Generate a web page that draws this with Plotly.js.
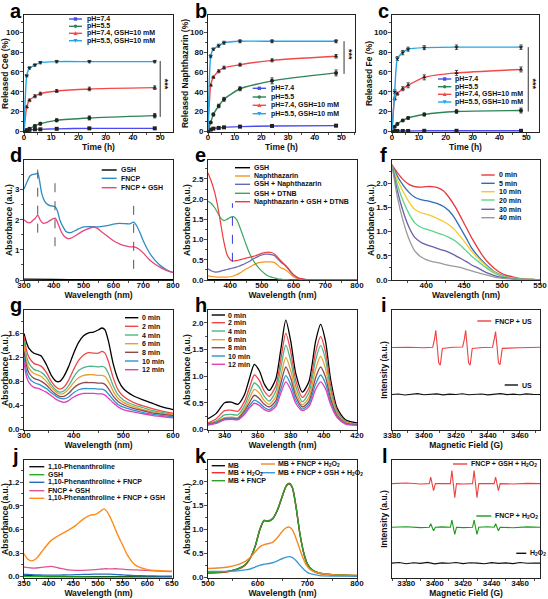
<!DOCTYPE html>
<html><head><meta charset="utf-8">
<script src="https://cdn.plot.ly/plotly-3.0.1.min.js"></script>
<style>html,body{margin:0;padding:0;background:#fff;}#chart{width:548px;height:599px;}</style>
</head><body><div id="chart"></div>
<script>
// ---------- DATA ----------
// a, b, c : release kinetics
const timeH = [0, 1, 2, 4, 6, 12, 24, 48];
const releaseLabels = ["pH=7.4", "pH=5.5", "pH=7.4, GSH=10 mM", "pH=5.5, GSH=10 mM"];
const ce6_pH74 = [0, 1, 1.5, 2, 2, 2.5, 3, 3];
const ce6_pH55 = [0, 1, 2.7, 5.4, 7.7, 11.1, 13.5, 15.8];
const ce6_pH74GSH = [0, 24.6, 31.3, 35.4, 38, 40.7, 42.8, 44.1];
const ce6_pH55GSH = [0, 56.2, 64, 67, 69.4, 70.4, 70.4, 70.4];
const ce6_err74 = [0, 0.5, 0.5, 0.5, 0.5, 0.6, 0.6, 0.6];
const ce6_err55 = [0, 0.8, 1, 1.2, 1.3, 1.5, 2, 2.2];
const ce6_err74G = [0, 1.2, 1.3, 1.5, 1.5, 1.5, 1.8, 1.8];
const ce6_err55G = [0, 1.2, 1.2, 1.2, 1.2, 1.2, 1.2, 1.2];
const naph_pH74 = [0, 1.7, 2.7, 3.4, 4, 4.7, 5.4, 5.7];
const naph_pH55 = [0, 9, 17, 25.6, 32.3, 43, 51, 59];
const naph_pH74GSH = [0, 46.5, 54.5, 60.6, 64.3, 67.3, 71.7, 75.8];
const naph_pH55GSH = [0, 75.8, 83, 86.5, 89.5, 91, 91, 91];
const naph_err74 = [0, 0.5, 0.5, 0.5, 0.5, 0.6, 0.6, 0.6];
const naph_err55 = [0, 1, 1.5, 1.8, 2, 2, 3, 3];
const naph_err74G = [0, 1, 1.2, 1.5, 1.5, 1.5, 1.5, 1.8];
const naph_err55G = [0, 1.5, 1.2, 1.5, 1.5, 1.5, 1.5, 1.5];
const fe_pH74 = [0, 0.3, 0.3, 0.3, 0.3, 0.5, 0.5, 0.5];
const fe_pH55 = [0, 4.5, 7.5, 11, 13.5, 17, 20, 21];
const fe_pH74GSH = [0, 33, 38, 43, 46.5, 54.5, 59, 62.5];
const fe_pH55GSH = [0, 40, 73.5, 79.5, 83, 84.5, 85, 85];
const fe_err74 = [0, 0.3, 0.3, 0.3, 0.3, 0.3, 0.3, 0.3];
const fe_err55 = [0, 0.8, 1, 1, 1.2, 1.5, 1.8, 2.5];
const fe_err74G = [0, 1.5, 1.5, 2, 2.5, 2.5, 2.5, 2.5];
const fe_err55G = [0, 2, 2, 2.2, 2, 2, 2.2, 2.2];

// d
const d_labels = ["GSH", "FNCP", "FNCP + GSH"];
const d_wl_gsh = [300, 400, 500, 600, 700, 800];
const d_gsh = [0.03, 0.02, 0.01, 0.01, 0.01, 0.01];
const d_wl_fncp = [300, 310, 320, 330, 340, 346, 352, 360, 370, 380, 390, 398, 405, 412, 420, 430, 440, 450, 460, 480, 500, 520, 550, 580, 600, 620, 640, 655, 668, 678, 690, 700, 720, 740, 760, 780, 800];
const d_fncp = [3.02, 3.25, 3.45, 3.5, 3.52, 3.55, 3.3, 2.85, 2.6, 2.5, 2.46, 2.45, 2.42, 2.3, 2.0, 1.78, 1.62, 1.57, 1.58, 1.68, 1.76, 1.77, 1.76, 1.8, 1.85, 1.88, 1.87, 1.86, 1.92, 1.8, 1.55, 1.3, 0.92, 0.65, 0.46, 0.33, 0.25];
const d_wl_mix = [300, 310, 320, 330, 338, 346, 355, 365, 375, 385, 395, 405, 415, 425, 435, 445, 455, 470, 490, 510, 530, 545, 560, 580, 600, 620, 640, 655, 670, 685, 700, 720, 740, 760, 780, 800];
const d_fncpgsh = [2.0, 1.92, 1.9, 1.98, 2.05, 2.15, 1.98, 1.88, 1.9, 1.96, 2.02, 2.05, 1.85, 1.6, 1.45, 1.38, 1.38, 1.45, 1.58, 1.68, 1.75, 1.72, 1.6, 1.45, 1.3, 1.2, 1.13, 1.1, 1.1, 1.03, 0.9, 0.68, 0.52, 0.4, 0.31, 0.25];
const d_markers = [346, 404, 668];

// e
const e_labels = ["GSH", "Naphthazarin", "GSH + Naphthazarin", "GSH + DTNB", "Naphthazarin + GSH + DTNB"];
const e_wl_short = [330, 450, 600, 800];
const e_gsh = [0.01, 0.01, 0.005, 0.0];
const e_wl = [330, 340, 350, 360, 370, 380, 390, 400, 410, 420, 430, 440, 450, 460, 470, 480, 490, 500, 510, 520, 530, 540, 550, 560, 570, 580, 590, 600, 615, 630, 650, 700, 750, 800];
const e_naph = [0.1, 0.09, 0.08, 0.07, 0.07, 0.07, 0.07, 0.08, 0.1, 0.13, 0.17, 0.22, 0.27, 0.31, 0.36, 0.4, 0.43, 0.44, 0.45, 0.45, 0.45, 0.43, 0.37, 0.3, 0.27, 0.22, 0.15, 0.08, 0.03, 0.01, 0, 0, 0, 0];
const e_gshnaph = [0.28, 0.23, 0.2, 0.2, 0.22, 0.24, 0.26, 0.28, 0.3, 0.32, 0.35, 0.38, 0.42, 0.46, 0.51, 0.55, 0.59, 0.62, 0.64, 0.64, 0.63, 0.6, 0.52, 0.44, 0.38, 0.3, 0.2, 0.12, 0.05, 0.02, 0, 0, 0, 0];
const e_gshdtnb = [1.95, 1.9, 1.8, 1.67, 1.53, 1.47, 1.5, 1.55, 1.57, 1.5, 1.32, 1.1, 0.88, 0.68, 0.52, 0.4, 0.3, 0.22, 0.15, 0.1, 0.07, 0.05, 0.03, 0.02, 0.01, 0.01, 0, 0, 0, 0, 0, 0, 0, 0];
const e_all = [2.65, 2.45, 2.2, 1.85, 1.4, 0.95, 0.63, 0.5, 0.47, 0.48, 0.5, 0.52, 0.54, 0.56, 0.58, 0.6, 0.63, 0.66, 0.68, 0.69, 0.68, 0.64, 0.56, 0.47, 0.4, 0.32, 0.22, 0.13, 0.05, 0.02, 0, 0, 0, 0];
const e_marker = 407;

// f
const f_labels = ["0 min", "5 min", "10 min", "20 min", "30 min", "40 min"];
const f_wl = [355, 362, 370, 378, 385, 393, 400, 408, 415, 423, 430, 438, 445, 453, 460, 468, 475, 483, 490, 498, 505, 515, 525, 540, 550];
const f_0 = [2.38, 2.22, 2.07, 1.97, 1.93, 1.92, 1.93, 1.93, 1.91, 1.84, 1.71, 1.52, 1.32, 1.08, 0.87, 0.66, 0.49, 0.34, 0.24, 0.15, 0.1, 0.06, 0.03, 0.01, 0.0];
const f_5 = [2.38, 2.15, 1.95, 1.8, 1.71, 1.66, 1.64, 1.61, 1.58, 1.52, 1.43, 1.27, 1.08, 0.86, 0.66, 0.5, 0.38, 0.26, 0.17, 0.11, 0.07, 0.04, 0.02, 0.01, 0.0];
const f_10 = [2.38, 2.08, 1.82, 1.6, 1.46, 1.39, 1.36, 1.32, 1.27, 1.21, 1.14, 1.03, 0.9, 0.74, 0.59, 0.46, 0.35, 0.24, 0.16, 0.1, 0.06, 0.04, 0.02, 0.01, 0.0];
const f_20 = [2.38, 1.98, 1.62, 1.35, 1.18, 1.09, 1.05, 1.01, 0.97, 0.93, 0.88, 0.81, 0.72, 0.6, 0.49, 0.39, 0.3, 0.21, 0.14, 0.09, 0.06, 0.03, 0.02, 0.01, 0.0];
const f_30 = [2.38, 1.85, 1.4, 1.07, 0.88, 0.78, 0.73, 0.69, 0.65, 0.61, 0.57, 0.51, 0.45, 0.38, 0.31, 0.25, 0.19, 0.13, 0.09, 0.06, 0.04, 0.02, 0.01, 0.0, 0.0];
const f_40 = [2.38, 1.72, 1.2, 0.82, 0.6, 0.48, 0.42, 0.38, 0.36, 0.33, 0.3, 0.28, 0.26, 0.22, 0.19, 0.15, 0.12, 0.09, 0.06, 0.04, 0.03, 0.02, 0.01, 0.0, 0.0];

// g
const gh_labels = ["0 min", "2 min", "4 min", "6 min", "8 min", "10 min", "12 min"];
const g_wl = [300, 305, 310, 320, 330, 335, 345, 355, 365, 372, 380, 390, 400, 410, 420, 430, 440, 450, 457, 463, 470, 480, 490, 500, 520, 540, 560, 580, 600];
const g_0 = [1.6, 1.45, 1.35, 1.27, 1.24, 1.22, 1.08, 0.9, 0.8, 0.8, 0.88, 1.05, 1.27, 1.45, 1.56, 1.61, 1.62, 1.66, 1.69, 1.66, 1.47, 1.08, 0.82, 0.68, 0.56, 0.49, 0.43, 0.37, 0.33];
const g_2 = [1.55, 1.32, 1.2, 1.1, 1.07, 1.05, 0.95, 0.8, 0.7, 0.67, 0.7, 0.82, 1.0, 1.15, 1.24, 1.28, 1.27, 1.27, 1.3, 1.27, 1.13, 0.85, 0.65, 0.55, 0.45, 0.39, 0.34, 0.3, 0.27];
const g_4 = [1.47, 1.22, 1.1, 1.0, 0.97, 0.95, 0.87, 0.74, 0.65, 0.62, 0.64, 0.73, 0.87, 0.98, 1.03, 1.05, 1.05, 1.04, 1.05, 1.03, 0.93, 0.72, 0.57, 0.49, 0.41, 0.36, 0.31, 0.28, 0.25];
const g_6 = [1.4, 1.15, 1.02, 0.93, 0.9, 0.88, 0.8, 0.7, 0.62, 0.59, 0.6, 0.67, 0.78, 0.86, 0.9, 0.91, 0.91, 0.9, 0.9, 0.88, 0.8, 0.63, 0.51, 0.45, 0.38, 0.33, 0.29, 0.26, 0.24];
const g_8 = [1.3, 1.06, 0.94, 0.85, 0.82, 0.8, 0.74, 0.65, 0.58, 0.55, 0.55, 0.6, 0.69, 0.75, 0.78, 0.78, 0.78, 0.77, 0.77, 0.75, 0.68, 0.55, 0.46, 0.41, 0.35, 0.31, 0.27, 0.25, 0.23];
const g_10 = [1.2, 0.97, 0.86, 0.78, 0.75, 0.73, 0.68, 0.61, 0.55, 0.52, 0.51, 0.54, 0.61, 0.66, 0.68, 0.68, 0.68, 0.67, 0.67, 0.65, 0.59, 0.49, 0.41, 0.37, 0.32, 0.28, 0.25, 0.23, 0.21];
const g_12 = [1.12, 0.88, 0.78, 0.7, 0.68, 0.66, 0.62, 0.56, 0.5, 0.47, 0.45, 0.48, 0.54, 0.58, 0.6, 0.6, 0.6, 0.59, 0.59, 0.57, 0.52, 0.44, 0.37, 0.33, 0.29, 0.26, 0.23, 0.21, 0.19];

// h
const h_wl = [330, 335, 340, 344, 348, 352, 355, 358, 361, 364, 367, 371, 374, 377, 380, 383, 387, 391, 395, 398, 401, 404, 408, 413, 420];
const h_0 = [0.20, 0.30, 0.50, 0.51, 0.47, 0.65, 0.95, 1.22, 1.10, 0.85, 0.73, 0.95, 1.50, 2.05, 1.65, 1.05, 0.70, 0.90, 1.65, 1.97, 1.65, 0.95, 0.40, 0.18, 0.12];
const h_2 = [0.12, 0.20, 0.35, 0.36, 0.34, 0.52, 0.78, 1.02, 0.92, 0.72, 0.62, 0.82, 1.32, 1.80, 1.45, 0.92, 0.60, 0.78, 1.45, 1.74, 1.45, 0.83, 0.35, 0.15, 0.09];
const h_4 = [0.10, 0.16, 0.27, 0.28, 0.27, 0.44, 0.67, 0.87, 0.79, 0.62, 0.53, 0.72, 1.16, 1.58, 1.28, 0.81, 0.52, 0.69, 1.30, 1.57, 1.31, 0.75, 0.32, 0.14, 0.09];
const h_6 = [0.10, 0.14, 0.22, 0.23, 0.22, 0.38, 0.58, 0.75, 0.68, 0.54, 0.47, 0.62, 1.00, 1.35, 1.10, 0.70, 0.46, 0.60, 1.13, 1.37, 1.14, 0.66, 0.29, 0.13, 0.09];
const h_8 = [0.10, 0.13, 0.20, 0.21, 0.20, 0.34, 0.50, 0.64, 0.58, 0.47, 0.42, 0.54, 0.87, 1.17, 0.96, 0.62, 0.42, 0.53, 0.97, 1.17, 0.98, 0.58, 0.26, 0.12, 0.09];
const h_10 = [0.09, 0.12, 0.19, 0.20, 0.19, 0.30, 0.44, 0.55, 0.50, 0.41, 0.37, 0.48, 0.76, 1.01, 0.84, 0.55, 0.38, 0.48, 0.85, 1.02, 0.86, 0.52, 0.24, 0.11, 0.08];
const h_12 = [0.08, 0.11, 0.18, 0.19, 0.18, 0.28, 0.40, 0.49, 0.45, 0.37, 0.34, 0.43, 0.68, 0.89, 0.74, 0.49, 0.35, 0.43, 0.75, 0.89, 0.76, 0.47, 0.22, 0.10, 0.08];

// i (EPR)
const i_labels = ["FNCP + US", "US"];
const i_field = [3380, 3390, 3400, 3405.5, 3406.6, 3407.4, 3408.3, 3409.2, 3410.2, 3411.5, 3418, 3424.2, 3425.3, 3426.1, 3427, 3427.9, 3428.9, 3430.2, 3437, 3442.9, 3444, 3444.8, 3445.7, 3446.6, 3447.6, 3449, 3460, 3472.6];
const i_fncpus = [0.687, 0.69, 0.685, 0.69, 0.76, 0.83, 0.70, 0.56, 0.54, 0.68, 0.69, 0.692, 0.76, 0.83, 0.70, 0.56, 0.54, 0.68, 0.688, 0.69, 0.76, 0.82, 0.70, 0.56, 0.545, 0.68, 0.686, 0.69];
const i_field_us = [3380, 3384, 3388, 3392, 3396, 3400, 3404, 3408, 3412, 3416, 3420, 3424, 3428, 3432, 3436, 3440, 3444, 3448, 3452, 3456, 3460, 3464, 3468, 3472.6];
const i_us = [0.296, 0.300, 0.292, 0.298, 0.303, 0.294, 0.297, 0.301, 0.293, 0.299, 0.296, 0.302, 0.294, 0.298, 0.300, 0.293, 0.297, 0.303, 0.295, 0.299, 0.294, 0.301, 0.297, 0.296];

// j
const j_labels = ["1,10-Phenanthroline", "GSH", "1,10-Phenanthroline + FNCP", "FNCP + GSH", "1,10-Phenanthroline + FNCP + GSH"];
const j_wl_short = [350, 380, 420, 500, 650];
const j_phen = [0.02, 0.008, 0.002, 0.0, 0.0];
const j_gsh = [0.003, 0.0, -0.003, -0.004, -0.004];
const j_wl = [350, 358, 365, 375, 390, 405, 420, 440, 455, 470, 485, 495, 505, 512, 520, 530, 540, 550, 560, 575, 600, 625, 650];
const j_phenfncp = [0.03, 0.028, 0.025, 0.022, 0.02, 0.02, 0.02, 0.022, 0.025, 0.028, 0.03, 0.032, 0.033, 0.033, 0.032, 0.03, 0.027, 0.022, 0.018, 0.014, 0.01, 0.008, 0.008];
const j_fncpgsh = [0.12, 0.115, 0.11, 0.11, 0.12, 0.13, 0.11, 0.085, 0.08, 0.08, 0.085, 0.09, 0.095, 0.1, 0.1, 0.1, 0.1, 0.095, 0.09, 0.085, 0.08, 0.07, 0.065];
const j_all = [0.29, 0.22, 0.2, 0.23, 0.35, 0.46, 0.52, 0.59, 0.65, 0.73, 0.78, 0.79, 0.83, 0.86, 0.81, 0.68, 0.53, 0.4, 0.27, 0.15, 0.09, 0.075, 0.07];

// k
const k_labels = ["MB", "MB + H<sub>2</sub>O<sub>2</sub>", "MB + FNCP", "MB + FNCP + H<sub>2</sub>O<sub>2</sub>", "MB + FNCP + GSH + H<sub>2</sub>O<sub>2</sub>"];
const k_wl = [500, 520, 540, 560, 575, 585, 595, 605, 613, 620, 630, 640, 650, 658, 664, 670, 677, 685, 693, 700, 710, 725, 750, 775, 800];
const k_mb = [0.1, 0.1, 0.12, 0.17, 0.26, 0.4, 0.65, 1.02, 1.19, 1.17, 1.22, 1.41, 1.71, 1.92, 1.96, 1.87, 1.49, 0.91, 0.5, 0.28, 0.15, 0.08, 0.05, 0.04, 0.03];
const k_mbh2o2 = [0.08, 0.09, 0.11, 0.16, 0.25, 0.39, 0.64, 1.01, 1.18, 1.17, 1.22, 1.41, 1.71, 1.92, 1.96, 1.87, 1.49, 0.91, 0.49, 0.27, 0.14, 0.07, 0.04, 0.03, 0.02];
const k_mbfncp = [0.1, 0.1, 0.12, 0.17, 0.26, 0.4, 0.65, 1.02, 1.19, 1.18, 1.23, 1.42, 1.72, 1.93, 1.97, 1.88, 1.5, 0.92, 0.5, 0.28, 0.15, 0.08, 0.05, 0.04, 0.03];
const k_fncph2o2 = [0.18, 0.19, 0.21, 0.26, 0.33, 0.41, 0.53, 0.64, 0.68, 0.7, 0.73, 0.83, 0.97, 1.04, 1.05, 0.99, 0.82, 0.58, 0.36, 0.22, 0.13, 0.08, 0.05, 0.04, 0.04];
const k_all = [0.12, 0.12, 0.12, 0.13, 0.15, 0.17, 0.21, 0.25, 0.27, 0.28, 0.3, 0.34, 0.39, 0.42, 0.43, 0.41, 0.35, 0.25, 0.16, 0.1, 0.06, 0.03, 0.02, 0.02, 0.02];

// l (EPR)
const l_labels = ["FNCP + GSH + H<sub>2</sub>O<sub>2</sub>", "FNCP + H<sub>2</sub>O<sub>2</sub>", "H<sub>2</sub>O<sub>2</sub>"];
const l_field = [3370, 3380, 3390, 3396.2, 3397.2, 3398.2, 3399.2, 3400.5, 3405, 3411, 3412.1, 3413.1, 3414.1, 3415.3, 3420, 3426.6, 3427.7, 3428.7, 3429.7, 3431, 3437, 3441.8, 3442.8, 3443.8, 3444.8, 3446, 3455, 3465, 3474];
const l_all = [0.80, 0.805, 0.797, 0.80, 0.855, 0.80, 0.74, 0.80, 0.802, 0.80, 0.91, 0.80, 0.68, 0.80, 0.797, 0.80, 0.91, 0.80, 0.68, 0.80, 0.803, 0.80, 0.855, 0.80, 0.74, 0.80, 0.797, 0.802, 0.80];
const l_fncph2o2 = [0.43, 0.434, 0.427, 0.43, 0.46, 0.43, 0.40, 0.43, 0.433, 0.43, 0.49, 0.43, 0.37, 0.43, 0.427, 0.43, 0.49, 0.43, 0.37, 0.43, 0.434, 0.43, 0.46, 0.43, 0.40, 0.43, 0.426, 0.433, 0.43];
const l_field_h2o2 = [3370, 3375, 3380, 3385, 3390, 3395, 3400, 3405, 3410, 3415, 3420, 3425, 3430, 3435, 3440, 3445, 3450, 3455, 3460, 3465, 3470, 3474];
const l_h2o2 = [0.126, 0.131, 0.121, 0.129, 0.124, 0.132, 0.120, 0.128, 0.125, 0.131, 0.122, 0.129, 0.126, 0.121, 0.130, 0.124, 0.128, 0.122, 0.131, 0.125, 0.127, 0.126];

// ---------- BUILD ----------
const W = 548, H = 599;
const FONT = 'Arial, "Liberation Sans", Helvetica, sans-serif';
const TXT = '#111';
const X = p => p / W;
const Y = p => 1 - p / H;
const sfx = n => (n === 1 ? '' : String(n));
const traces = [], shapes = [], annotations = [];
const layout = {
  width: W, height: H, margin: {l: 0, r: 0, t: 0, b: 0},
  paper_bgcolor: '#fff', plot_bgcolor: '#fff', showlegend: false,
  font: {family: FONT, color: TXT}
};

const tickFont = {family: FONT, size: 8, color: TXT, weight: 'bold'};
const titleFont = {family: FONT, size: 8.5, color: TXT, weight: 'bold'};

function panel(n, p) {
  const common = {
    showline: true, linecolor: '#222', linewidth: 1, mirror: true,
    showgrid: false, zeroline: false, fixedrange: true, automargin: false,
    ticks: 'outside', ticklen: 3, tickwidth: 0.8, tickcolor: '#222',
    tickfont: tickFont
  };
  layout['xaxis' + sfx(n)] = Object.assign({}, common, {
    domain: [X(p.l), X(p.r)], range: p.xr, anchor: 'y' + sfx(n),
    tick0: p.xt0, dtick: p.xd, ticklabelstandoff: -6,
    minor: {ticks: 'outside', ticklen: 1.6, tickwidth: 0.8, tickcolor: '#222', dtick: p.xm, tick0: p.xt0},
    title: {text: p.xtitle, font: titleFont, standoff: 0}
  });
  const ya = Object.assign({}, common, {
    domain: [Y(p.b), Y(p.t)], range: p.yr, anchor: 'x' + sfx(n),
    tick0: 0, dtick: p.yd, tickformat: p.yf || '', ticklabelstandoff: -1,
    minor: {ticks: 'outside', ticklen: 1.6, tickwidth: 0.8, tickcolor: '#222', dtick: p.ym, tick0: 0},
    title: {text: p.ytitle, font: titleFont, standoff: 0}
  });
  if (p.noY) { ya.showticklabels = false; ya.ticks = ''; ya.minor = {ticks: ''}; ya.title.standoff = 2; }
  layout['yaxis' + sfx(n)] = ya;
  // panel letter
  annotations.push({xref: 'paper', yref: 'paper', x: X(p.lx), y: Y(p.ly + 5), xanchor: 'left', yanchor: 'bottom',
    text: p.letter, showarrow: false, borderpad: 0, font: {family: FONT, size: 20, color: '#000', weight: 'bold'}});
}

function line(n, x, y, color, width, shp) {
  traces.push({type: 'scatter', mode: 'lines', x: x, y: y, xaxis: 'x' + sfx(n), yaxis: 'y' + sfx(n),
    line: {color: color, width: width || 1.2, shape: shp || 'spline', smoothing: 0.7}, hoverinfo: 'skip'});
}
function release(n, y, err, color, symbol) {
  traces.push({type: 'scatter', mode: 'lines+markers', x: timeH, y: y, xaxis: 'x' + sfx(n), yaxis: 'y' + sfx(n),
    line: {color: color, width: 1.4, shape: 'spline', smoothing: 0.5},
    marker: {symbol: symbol, size: 4, color: '#222', line: {width: 0}},
    error_y: {type: 'data', array: err, visible: true, color: '#222', thickness: 0.8, width: 1.6},
    hoverinfo: 'skip'});
}
function legLine(x0, x1, y, color, w) {
  shapes.push({type: 'line', xref: 'paper', yref: 'paper', x0: X(x0), x1: X(x1), y0: Y(y), y1: Y(y),
    line: {color: color, width: w || 1.4}});
}
function legText(x, y, text) {
  annotations.push({xref: 'paper', yref: 'paper', x: X(x), y: Y(y), xanchor: 'left', yanchor: 'middle',
    text: text, showarrow: false, borderpad: 0, font: {family: FONT, size: 7, color: TXT, weight: 'bold'}});
}
function legMarker(cx, cy, sym, color) {
  const r = 1.7;
  if (sym === 'square') {
    shapes.push({type: 'rect', xref: 'paper', yref: 'paper', x0: X(cx - r), x1: X(cx + r), y0: Y(cy + r), y1: Y(cy - r),
      fillcolor: color, line: {width: 0}});
  } else if (sym === 'circle') {
    shapes.push({type: 'circle', xref: 'paper', yref: 'paper', x0: X(cx - r), x1: X(cx + r), y0: Y(cy + r), y1: Y(cy - r),
      fillcolor: color, line: {width: 0}});
  } else {
    const up = sym === 'triangle-up' ? 1 : -1;
    const pts = [[cx - 2, cy + 1.7 * up], [cx + 2, cy + 1.7 * up], [cx, cy - 2 * up]];
    shapes.push({type: 'path', xref: 'paper', yref: 'paper', fillcolor: color, line: {width: 0},
      path: 'M' + pts.map(q => X(q[0]) + ',' + Y(q[1])).join(' L') + ' Z'});
  }
}
function legend(items, x0, x1, tx, ys, w) {
  items.forEach((it, k) => { legLine(x0, x1, ys[k], it[1], w); legText(tx, ys[k], it[0]); });
}
function vdash(n, x, y0, y1, color) {
  shapes.push({type: 'line', xref: 'x' + sfx(n), yref: 'y' + sfx(n), x0: x, x1: x, y0: y0, y1: y1,
    line: {color: color, width: 1, dash: 'dash'}});
}
function signif(n, x, y0, y1, tx, ty) {
  shapes.push({type: 'line', xref: 'x' + sfx(n), yref: 'y' + sfx(n), x0: x, x1: x, y0: y0, y1: y1,
    line: {color: '#333', width: 1}});
  annotations.push({xref: 'x' + sfx(n), yref: 'y' + sfx(n), x: tx, y: ty, text: '***', textangle: 90,
    showarrow: false, borderpad: 0, font: {family: FONT, size: 9, color: TXT, weight: 'bold'}});
}

const relCols = ['#4b4bef', '#2f8455', '#f24a4a', '#22a7e6'];
const relSyms = ['square', 'circle', 'triangle-up', 'triangle-down'];

// ---- a ----
panel(1, {l: 24, r: 173, t: 15, b: 132, xr: [0, 54.7], yr: [-0.7, 117.5], xt0: 0, xd: 10, xm: 5, yd: 20, ym: 10,
  letter: 'a', lx: 9, ly: 18, xtitle: 'Time (h)', ytitle: 'Released Ce6 (%)'});
[[ce6_pH74, ce6_err74], [ce6_pH55, ce6_err55], [ce6_pH74GSH, ce6_err74G], [ce6_pH55GSH, ce6_err55G]]
  .forEach((s, k) => release(1, s[0], s[1], relCols[k], relSyms[k]));
signif(1, 50, 14.5, 71, 51.8, 48);
[19, 26.3, 33.3, 40.7].forEach((y, k) => { legLine(69, 82, y, relCols[k]); legMarker(75.5, y, relSyms[k], relCols[k]); legText(86, y, releaseLabels[k]); });

// ---- b ----
panel(2, {l: 208, r: 355, t: 15, b: 132, xr: [0, 55.1], yr: [-0.7, 117.5], xt0: 0, xd: 10, xm: 5, yd: 20, ym: 10,
  letter: 'b', lx: 194, ly: 18, xtitle: 'Time (h)', ytitle: 'Released Naphthazarin (%)'});
[[naph_pH74, naph_err74], [naph_pH55, naph_err55], [naph_pH74GSH, naph_err74G], [naph_pH55GSH, naph_err55G]]
  .forEach((s, k) => release(2, s[0], s[1], relCols[k], relSyms[k]));
signif(2, 51, 58, 91, 52.9, 78);
[88.3, 97, 105.3, 113.7].forEach((y, k) => { legLine(252.7, 266, y, relCols[k]); legMarker(259.3, y, relSyms[k], relCols[k]); legText(270, y, releaseLabels[k]); });

// ---- c ----
panel(3, {l: 392, r: 539, t: 15, b: 132, xr: [0, 54.7], yr: [-0.7, 117.5], xt0: 0, xd: 10, xm: 5, yd: 20, ym: 10,
  letter: 'c', lx: 377, ly: 18, xtitle: 'Time (h)', ytitle: 'Released Fe (%)'});
[[fe_pH74, fe_err74], [fe_pH55, fe_err55], [fe_pH74GSH, fe_err74G], [fe_pH55GSH, fe_err55G]]
  .forEach((s, k) => release(3, s[0], s[1], relCols[k], relSyms[k]));
signif(3, 50.7, 20, 85, 52.6, 48);
[79, 86.7, 94.3, 102].forEach((y, k) => { legLine(438, 451.3, y, relCols[k]); legMarker(444.7, y, relSyms[k], relCols[k]); legText(453.5, y, releaseLabels[k]); });

// ---- d ----
const dCols = ['#000000', '#2e8cc2', '#e8467c'];
panel(4, {l: 24, r: 173, t: 160, b: 280, xr: [300, 800], yr: [0, 3.98], xt0: 300, xd: 100, xm: 50, yd: 1, ym: 0.5,
  letter: 'd', lx: 9, ly: 161.5, xtitle: 'Wavelength (nm)', ytitle: 'Absorbance (a.u.)'});
line(4, d_wl_gsh, d_gsh, dCols[0], 1.2);
line(4, d_wl_fncp, d_fncp, dCols[1], 1.3);
line(4, d_wl_mix, d_fncpgsh, dCols[2], 1.3);
vdash(4, d_markers[0], 1.57, 3.75, '#555');
vdash(4, d_markers[1], 1.12, 3.3, '#555');
vdash(4, d_markers[2], 0.37, 2.54, '#555');
legend(d_labels.map((t, k) => [t, dCols[k]]), 101.7, 116.7, 119.5, [170, 178.3, 187.7]);

// ---- e ----
const eCols = ['#000000', '#f7951e', '#6767b5', '#3aa75e', '#f03a3a'];
panel(5, {l: 208, r: 357, t: 160, b: 280, xr: [330, 800], yr: [0, 2.97], xt0: 400, xd: 100, xm: 50, yd: 0.5, ym: 0.25, yf: '.1f',
  letter: 'e', lx: 194, ly: 161.5, xtitle: 'Wavelength (nm)', ytitle: 'Absorbance (a.u.)'});
line(5, e_wl_short, e_gsh, eCols[0]);
line(5, e_wl, e_naph, eCols[1]);
line(5, e_wl, e_gshnaph, eCols[2]);
line(5, e_wl, e_gshdtnb, eCols[3]);
line(5, e_wl, e_all, eCols[4]);
vdash(5, e_marker, 0.45, 1.9, '#3a3ad8');
legend(e_labels.map((t, k) => [t, eCols[k]]), 235, 250, 252.5, [167.7, 176, 184.3, 193.3, 201.7]);

// ---- f ----
const fCols = ['#e8383c', '#2c6db5', '#f8c92a', '#5ad48a', '#6a5fa8', '#9a9a9a'];
panel(6, {l: 392, r: 540, t: 160, b: 280, xr: [355, 550], yr: [0, 2.48], xt0: 400, xd: 50, xm: 25, yd: 0.5, ym: 0.25, yf: '.1f',
  letter: 'f', lx: 379, ly: 161.5, xtitle: 'Wavelength (nm)', ytitle: 'Absorbance (a.u.)'});
[f_0, f_5, f_10, f_20, f_30, f_40].forEach((s, k) => line(6, f_wl, s, fCols[k], 1.3));
legend(f_labels.map((t, k) => [t, fCols[k]]), 481.3, 494.7, 497.5, [175, 183.3, 191.7, 200, 209.3, 217.7]);

// ---- g ----
const ghCols = ['#000000', '#f04848', '#4fb58a', '#e8a030', '#8a4a50', '#2c94d0', '#e040b8'];
panel(7, {l: 24, r: 173, t: 310, b: 430, xr: [300, 600], yr: [-0.011, 1.99], xt0: 300, xd: 100, xm: 50, yd: 0.4, ym: 0.2, yf: '.1f',
  letter: 'g', lx: 9, ly: 312, xtitle: 'Wavelength (nm)', ytitle: 'Absorbance (a.u.)'});
[g_0, g_2, g_4, g_6, g_8, g_10, g_12].forEach((s, k) => line(7, g_wl, s, ghCols[k], 1.3));
legend(gh_labels.map((t, k) => [t, ghCols[k]]), 125, 138.3, 141.2, [317.7, 326.3, 335, 343.7, 352.3, 361, 369.7]);

// ---- h ----
panel(8, {l: 208, r: 357, t: 310, b: 430, xr: [330, 420], yr: [-0.012, 2.24], xt0: 340, xd: 20, xm: 10, yd: 0.5, ym: 0.25, yf: '.1f',
  letter: 'h', lx: 194, ly: 312, xtitle: 'Wavelength (nm)', ytitle: 'Absorbance (a.u.)'});
[h_0, h_2, h_4, h_6, h_8, h_10, h_12].forEach((s, k) => line(8, h_wl, s, ghCols[k], 1.3));
legend(gh_labels.map((t, k) => [t, ghCols[k]]), 211.7, 225, 226.5, [315, 322.7, 331, 339.7, 347.7, 356, 364.3]);

// ---- i ----
panel(9, {l: 392, r: 540, t: 310, b: 430, xr: [3380, 3472.6], yr: [0, 1], xt0: 3400, xd: 20, xm: 10, yd: 0.5, ym: 0.25, noY: true,
  letter: 'i', lx: 380, ly: 312, xtitle: 'Magnetic Field (G)', ytitle: 'Intensity (a.u.)'});
line(9, i_field, i_fncpus, '#f04040', 1.1, 'linear');
line(9, i_field_us, i_us, '#111111', 1.1, 'linear');
legLine(477.3, 491.3, 321, '#f04040'); legText(493.5, 321, i_labels[0]);
legLine(504.7, 518, 385, '#111111'); legText(520.5, 385, i_labels[1]);

// ---- j ----
const jCols = ['#111111', '#22b022', '#2868c0', '#e0558e', '#ff8c1a'];
panel(10, {l: 24, r: 173, t: 460, b: 578, xr: [350, 652], yr: [-0.017, 1.48], xt0: 350, xd: 50, xm: 25, yd: 0.3, ym: 0.15, yf: '.1f',
  letter: 'j', lx: 11, ly: 463, xtitle: 'Wavelength (nm)', ytitle: 'Absorbance (a.u.)'});
line(10, j_wl_short, j_phen, jCols[0]);
line(10, j_wl_short, j_gsh, jCols[1]);
line(10, j_wl, j_phenfncp, jCols[2], 1.3);
line(10, j_wl, j_fncpgsh, jCols[3], 1.3);
line(10, j_wl, j_all, jCols[4], 1.4);
legend(j_labels.map((t, k) => [t, jCols[k]]), 29.3, 44.3, 47, [466.7, 474.7, 482.3, 490.7, 498.3]);

// ---- k ----
const kCols = ['#111111', '#f03030', '#2ca02c', '#f08a24', '#3a9ad8'];
panel(11, {l: 208, r: 357, t: 460, b: 578, xr: [500, 800], yr: [-0.02, 2.46], xt0: 500, xd: 100, xm: 50, yd: 0.5, ym: 0.25, yf: '.1f',
  letter: 'k', lx: 194, ly: 463, xtitle: 'Wavelength (nm)', ytitle: 'Absorbance (a.u.)'});
line(11, k_wl, k_mb, kCols[0], 1.3);
line(11, k_wl, k_mbh2o2, kCols[1], 1.3);
line(11, k_wl, k_mbfncp, kCols[2], 1.4);
line(11, k_wl, k_fncph2o2, kCols[3], 1.4);
line(11, k_wl, k_all, kCols[4], 1.4);
legend([[k_labels[0], kCols[0]], [k_labels[1], kCols[1]], [k_labels[2], kCols[2]]], 211.7, 225, 226.5, [465.7, 472.7, 480.7]);
legend([[k_labels[3], kCols[3]], [k_labels[4], kCols[4]]], 261, 275, 277, [464, 472.7]);

// ---- l ----
panel(12, {l: 392, r: 540, t: 460, b: 578, xr: [3370, 3474], yr: [0, 1], xt0: 3380, xd: 20, xm: 10, yd: 0.5, ym: 0.25, noY: true,
  letter: 'l', lx: 381, ly: 463, xtitle: 'Magnetic Field (G)', ytitle: 'Intensity (a.u.)'});
line(12, l_field, l_all, '#f04040', 1.1, 'linear');
line(12, l_field, l_fncph2o2, '#1a9a1a', 1.1, 'linear');
line(12, l_field_h2o2, l_h2o2, '#111111', 1.1, 'linear');
legLine(453, 467.3, 464, '#f04040'); legText(469.5, 464, l_labels[0]);
legLine(476.3, 491.3, 516, '#1a9a1a'); legText(493.5, 516, l_labels[1]);
legLine(516.3, 526.3, 553.3, '#111111'); legText(529, 553.3, l_labels[2]);

layout.shapes = shapes;
layout.annotations = annotations;
Plotly.newPlot('chart', traces, layout, {staticPlot: true, displayModeBar: false});
</script>
</body></html>
